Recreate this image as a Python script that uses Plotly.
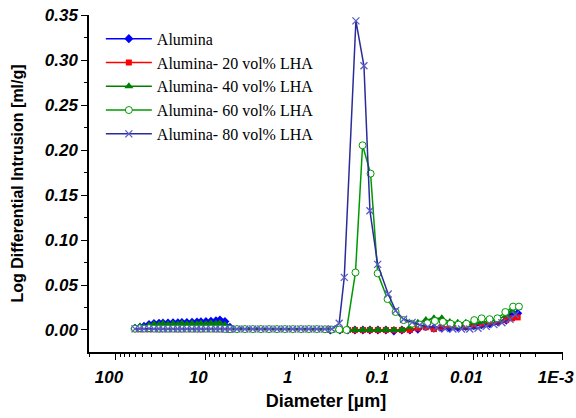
import plotly.graph_objects as go

# ---------------- data (diameters in µm, values in ml/g) ----------------
lp_diam = [61.3, 53.9, 48.6, 42.7, 37.6, 33.0, 29.8, 26.2, 23.0, 20.3, 18.3,
           16.1, 14.1, 12.4, 11.2, 9.85, 8.66, 7.61, 6.87, 6.04, 5.31]
mid_diam = [4.43, 3.61, 2.94, 2.39, 1.94, 1.58, 1.29, 1.05, 0.852, 0.694,
            0.565, 0.459, 0.384]
hp_diam = [0.40, 0.312, 0.254, 0.212, 0.1727, 0.1441, 0.1173, 0.0955, 0.0777,
           0.0632, 0.0514, 0.0419, 0.0341, 0.0277, 0.0226, 0.0184, 0.0150,
           0.0122, 0.0099, 0.0081, 0.0066, 0.0053, 0.0043, 0.0037, 0.0032]
hp60_diam = [0.318, 0.263, 0.209, 0.174, 0.1416, 0.118, 0.0915, 0.0743,
             0.0605, 0.0485, 0.0398, 0.0328, 0.027, 0.022, 0.018, 0.0147,
             0.012, 0.0098, 0.0081, 0.0066, 0.0054, 0.0044, 0.0036, 0.0031]
hp80_diam = [0.318, 0.279, 0.2067, 0.168, 0.144, 0.118, 0.090, 0.0743,
             0.0605, 0.0485, 0.0398, 0.0324, 0.0259, 0.0209, 0.0170, 0.0136,
             0.0110, 0.0089, 0.0072, 0.0059, 0.0048, 0.0039, 0.0034]

alumina_lp = [0.002, 0.003, 0.004, 0.006, 0.0072, 0.0075, 0.0076, 0.0078,
              0.008, 0.0081, 0.0082, 0.0084, 0.0086, 0.0088, 0.009, 0.0093,
              0.0097, 0.0103, 0.011, 0.0095, 0.003]
alumina_hp = [0.0, 0.0, 0.0, 0.0, 0.0, 0.0, 0.0, 0.0, -0.001, 0.0, 0.0, 0.001,
              0.004, 0.002, 0.002, 0.002, 0.003, 0.004, 0.005, 0.006, 0.007,
              0.009, 0.011, 0.016, 0.0185]

lha20_lp = [0.001, 0.0008, 0.001, 0.0008, 0.001, 0.0009, 0.001, 0.0009, 0.001,
            0.0009, 0.001, 0.001, 0.0009, 0.001, 0.0009, 0.001, 0.001, 0.0009,
            0.001, 0.0008, 0.0005]
lha20_hp = [0.0, 0.0, 0.0, 0.0, 0.0, 0.0, 0.0, 0.0, 0.0, 0.0, 0.0, 0.002,
            0.003, 0.001, 0.003, 0.004, 0.005, 0.004, 0.006, 0.007, 0.008,
            0.009, 0.011, 0.013, 0.014]

lha40_lp = [0.002, 0.004, 0.003, 0.005, 0.0065, 0.0058, 0.0068, 0.006, 0.007,
            0.0062, 0.0071, 0.0063, 0.0072, 0.0064, 0.0073, 0.0066, 0.0074,
            0.0068, 0.0075, 0.0055, 0.002]
lha40_hp = [0.0, 0.0, 0.0, 0.0, 0.0, 0.0, 0.0, 0.0, 0.0, 0.0, 0.003, 0.008,
            0.011, 0.013, 0.013, 0.009, 0.008, 0.008, 0.008, 0.009, 0.01,
            0.012, 0.016, 0.021, 0.025]

lha60_lp = [0.0015, 0.002, 0.0015, 0.002, 0.0015, 0.0015, 0.0015, 0.0015,
            0.0015, 0.0015, 0.0015, 0.0015, 0.0015, 0.0015, 0.0015, 0.0015,
            0.0015, 0.0015, 0.0015, 0.0012, 0.001]
lha60_mid = [0.001, 0.001, 0.001, 0.001, 0.001, 0.001, 0.001, 0.001, 0.001,
             0.001, 0.001, 0.0008, 0.0005]
lha60_hp = [0.0005, 0.0, 0.064, 0.2055, 0.174, 0.063, 0.0344, 0.020, 0.011,
            0.007, 0.006, 0.0075, 0.010, 0.009, 0.007, 0.006, 0.007, 0.011,
            0.013, 0.012, 0.013, 0.020, 0.026, 0.026]

lha80_lp = [0.0012, 0.0015, 0.0012, 0.0015, 0.0012, 0.0012, 0.0012, 0.0012,
            0.0012, 0.0012, 0.0012, 0.0012, 0.0012, 0.0012, 0.0012, 0.0012,
            0.0012, 0.0012, 0.0012, 0.001, 0.001]
lha80_mid = [0.001, 0.001, 0.001, 0.001, 0.001, 0.001, 0.001, 0.001, 0.001,
             0.001, 0.001, 0.001, 0.001]
lha80_hp = [0.0074, 0.0585, 0.344, 0.294, 0.1326, 0.073, 0.040, 0.0215, 0.012,
            0.0085, 0.0055, 0.0035, 0.0025, 0.0015, 0.001, 0.001, 0.001, 0.002,
            0.004, 0.006, 0.008, 0.012, 0.017]

names = ["Alumina", "Alumina- 20 vol% LHA", "Alumina- 40 vol% LHA",
         "Alumina- 60 vol% LHA", "Alumina- 80 vol% LHA"]

x_tickvals = [100, 10, 1, 0.1, 0.01, 0.001]
x_ticktext = ["100", "10", "1", "0.1", "0.01", "1E-3"]
y_tickvals = [0.00, 0.05, 0.10, 0.15, 0.20, 0.25, 0.30, 0.35]
y_ticktext = ["0.00", "0.05", "0.10", "0.15", "0.20", "0.25", "0.30", "0.35"]

# ---------------- figure ----------------
fig = go.Figure()

series = [
    (names[0], lp_diam + hp_diam, alumina_lp + alumina_hp, "#0000FF",
     dict(symbol="diamond", size=7, color="#0000FF", line=dict(width=0))),
    (names[1], lp_diam + hp_diam, lha20_lp + lha20_hp, "#FF0000",
     dict(symbol="square", size=6, color="#FF0000", line=dict(width=0))),
    (names[2], lp_diam + hp_diam, lha40_lp + lha40_hp, "#008000",
     dict(symbol="triangle-up", size=8, color="#008000", line=dict(width=0))),
    (names[3], lp_diam + mid_diam + hp60_diam, lha60_lp + lha60_mid + lha60_hp,
     "#009A00",
     dict(symbol="circle", size=7, color="white",
          line=dict(width=1, color="#009A00"))),
    (names[4], lp_diam + mid_diam + hp80_diam, lha80_lp + lha80_mid + lha80_hp,
     "#2B2B9B",
     dict(symbol="x-thin-open", size=7, color="#5A5AC8",
          line=dict(width=1.3, color="#5A5AC8"))),
]

for name, xs, ys, lc, mk in series:
    fig.add_trace(go.Scatter(
        x=xs, y=ys, name=name, mode="lines+markers",
        line=dict(color=lc, width=1.5), marker=mk,
    ))

tick_font = dict(family="Liberation Sans, Arial, sans-serif", size=17,
                 color="black")
title_font = dict(family="Liberation Sans, Arial, sans-serif", color="black")

minor_vals = [m * 10 ** e for e in range(-3, 3) for m in range(2, 10)]

fig.update_xaxes(
    type="log", range=[2.302, -3.002],
    showline=True, linecolor="black", linewidth=1.5,
    showgrid=False, zeroline=False,
    ticks="outside", ticklen=6, tickwidth=1.3, tickcolor="black",
    tickvals=x_tickvals,
    ticktext=["<b><i>%s</i></b>" % t for t in x_ticktext],
    tickfont=tick_font, ticklabeloverflow="allow", ticklabelshift=7,
    ticklabelstandoff=3,
    minor=dict(tickvals=minor_vals, ticks="outside", ticklen=3,
               tickwidth=1, tickcolor="black", showgrid=False),
    title=dict(text="<b>Diameter [µm]</b>", font=dict(size=18, **title_font),
               standoff=8),
)
fig.update_yaxes(
    range=[-0.0245, 0.3505],
    showline=True, linecolor="black", linewidth=1.5,
    showgrid=False, zeroline=False,
    ticks="outside", ticklen=6, tickwidth=1.3, tickcolor="black",
    tickvals=y_tickvals,
    ticktext=["<b><i>%s</i></b>" % t for t in y_ticktext],
    tickfont=tick_font, ticklabeloverflow="allow",
    minor=dict(dtick=0.025, ticks="outside", ticklen=3, tickwidth=1,
               tickcolor="black", showgrid=False),
    title=dict(text="<b>Log Differential Intrusion [ml/g]</b>",
               font=dict(size=16, **title_font), standoff=17),
)

fig.update_layout(
    width=576, height=418,
    margin=dict(l=89, r=13, t=15, b=66, autoexpand=False),
    paper_bgcolor="white", plot_bgcolor="white",
    showlegend=True,
    legend=dict(x=0.025, y=0.98, xanchor="left", yanchor="top",
                bgcolor="rgba(0,0,0,0)", itemwidth=46,
                font=dict(family="Liberation Serif, Times New Roman, serif",
                          size=16, color="black"),
                tracegroupgap=0),
)

# remove the browser's default 8 px page margin so the figure fills the window
fig.write_html("out.html", config={"displayModeBar": False},
               post_script="document.body.style.margin='0px';"
                           "document.body.style.overflow='hidden';")
